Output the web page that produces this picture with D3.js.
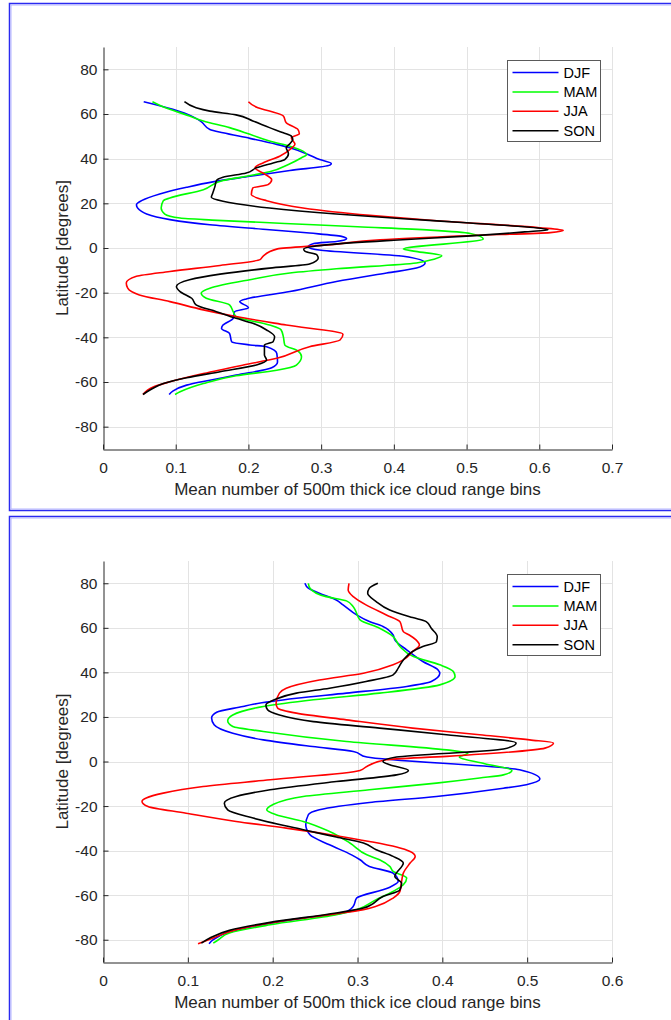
<!DOCTYPE html>
<html>
<head>
<meta charset="utf-8">
<script src="https://d3js.org/d3.v7.min.js"></script>
<style>
  body { margin: 0; background: #fff; }
  svg text { font-family: "Liberation Sans", Arial, sans-serif; fill: #262626; }
  .axis path, .axis line { stroke: #262626; }
  .grid line { stroke: #e3e3e3; }
</style>
</head>
<body>
<svg id="chart" width="671" height="1020"></svg>
<script>
// season names and colours
var seasons = ["DJF", "MAM", "JJA", "SON"];
var seasonColors = ["#0000ff", "#00ff00", "#ff0000", "#000000"];

// tick labels
var latTicks = [-80, -60, -40, -20, 0, 20, 40, 60, 80];
var topXTicks = [0, 0.1, 0.2, 0.3, 0.4, 0.5, 0.6, 0.7];
var bottomXTicks = [0, 0.1, 0.2, 0.3, 0.4, 0.5, 0.6];

// top panel: [latitude, mean bins]
var topDJF = [[65.5,0.056],[62.1,0.096],[58.7,0.124],[56.6,0.135],[53.1,0.147],[51.6,0.165],[49.1,0.202],[46.4,0.239],[44.9,0.257],[41.9,0.282],[39.6,0.298],[37.8,0.314],[37.1,0.312],[34.7,0.257],[32.1,0.202],[29.6,0.151],[27.2,0.115],[24.2,0.078],[21.2,0.053],[19.4,0.046],[16.4,0.053],[15.2,0.060],[12.7,0.092],[10.4,0.147],[8.2,0.229],[6.7,0.284],[5.2,0.328],[4.1,0.335],[2.9,0.321],[2.0,0.29],[0.5,0.282],[-1,0.30],[-3.7,0.413],[-6.7,0.443],[-9.0,0.431],[-11.2,0.39],[-15.0,0.321],[-19.5,0.257],[-22.8,0.197],[-24.0,0.188],[-26.7,0.2],[-28.5,0.181],[-31.5,0.179],[-34.5,0.165],[-36,0.163],[-38.2,0.174],[-42,0.177],[-43.4,0.202],[-44.2,0.225],[-47.2,0.239],[-51,0.24],[-53.6,0.232],[-56.9,0.183],[-59.2,0.147],[-61.4,0.115],[-64.1,0.096],[-65.6,0.091]];
var topMAM = [[65.5,0.068],[63.6,0.080],[59.1,0.119],[56.9,0.138],[53.9,0.174],[50.9,0.202],[47.9,0.229],[45.6,0.257],[43.4,0.275],[41.9,0.280],[40.4,0.273],[37.4,0.255],[34.1,0.229],[32.1,0.197],[30.2,0.165],[26.1,0.138],[22.4,0.092],[21.2,0.083],[17.9,0.080],[15.2,0.085],[13.4,0.106],[12.5,0.15],[11,0.25],[9.5,0.35],[8,0.45],[6.5,0.505],[4.0,0.523],[-0.5,0.413],[-1.5,0.43],[-3.5,0.466],[-5,0.455],[-6.7,0.431],[-9.3,0.321],[-11.2,0.257],[-14.2,0.202],[-18,0.147],[-20.2,0.135],[-22.5,0.142],[-25.5,0.174],[-28.5,0.179],[-30.7,0.183],[-34.5,0.229],[-36.7,0.245],[-39.7,0.248],[-43.4,0.25],[-46.1,0.268],[-48.7,0.273],[-52.4,0.266],[-54.7,0.239],[-57.2,0.183],[-60.7,0.138],[-64.4,0.106],[-65.6,0.099]];
var topJJA = [[65.5,0.2],[62.8,0.213],[61.3,0.229],[59.1,0.248],[56.1,0.252],[53.1,0.268],[51.2,0.270],[49.4,0.259],[46.4,0.264],[44.6,0.259],[41.1,0.243],[38.1,0.220],[35.9,0.209],[33.2,0.222],[30.6,0.232],[28.4,0.227],[26.9,0.206],[23.9,0.204],[21.2,0.225],[17.9,0.275],[14.6,0.367],[12.2,0.459],[9.1,0.6],[7.9,0.633],[6.9,0.615],[5.5,0.5],[3.7,0.381],[1.4,0.31],[-0.4,0.24],[-3.7,0.22],[-5.2,0.216],[-7.8,0.161],[-10.5,0.092],[-12.7,0.046],[-15.7,0.032],[-18,0.034],[-21,0.050],[-24,0.092],[-27.7,0.138],[-30.7,0.183],[-34.5,0.252],[-38.6,0.33],[-41.2,0.326],[-44.2,0.284],[-49.4,0.239],[-52.4,0.193],[-56.2,0.138],[-59.9,0.092],[-62.2,0.069],[-65.6,0.055]];
var topSON = [[65.5,0.112],[62.8,0.128],[61.3,0.147],[59.6,0.183],[56.9,0.206],[53.9,0.229],[51.6,0.248],[50.1,0.259],[48.6,0.261],[46.7,0.257],[44.9,0.252],[42.2,0.255],[39.6,0.25],[38.1,0.234],[35.9,0.211],[33.6,0.197],[31.7,0.165],[30.2,0.156],[27.6,0.154],[24.6,0.151],[22.7,0.149],[20.9,0.165],[17.9,0.229],[15.2,0.321],[13.1,0.413],[11.2,0.505],[9.5,0.58],[8.2,0.612],[7.2,0.58],[5.3,0.5],[3.5,0.40],[1.5,0.31],[0.7,0.289],[-0.4,0.276],[-1.5,0.278],[-3,0.294],[-4.5,0.296],[-7.2,0.284],[-9,0.229],[-11.7,0.161],[-14.2,0.119],[-17.2,0.101],[-19.5,0.106],[-22.5,0.122],[-25.5,0.128],[-28.5,0.156],[-31.5,0.183],[-33.7,0.206],[-36.7,0.225],[-39.7,0.236],[-41.9,0.234],[-43.4,0.222],[-47.9,0.222],[-50.2,0.225],[-52.4,0.211],[-55.4,0.161],[-58.1,0.115],[-60.7,0.083],[-63.7,0.064],[-65.6,0.055]];

// bottom panel: [latitude, mean bins]
var botDJF = [[80,0.238],[77.8,0.242],[75.5,0.255],[72.5,0.275],[70.3,0.283],[65.8,0.299],[62.8,0.314],[60.6,0.330],[56.8,0.342],[54.6,0.344],[50.1,0.358],[44.9,0.377],[41.1,0.395],[39.6,0.397],[35.9,0.387],[33.7,0.358],[30.7,0.287],[28.4,0.228],[25.7,0.177],[24.7,0.165],[22.1,0.134],[19.5,0.128],[16.5,0.131],[12.7,0.153],[9.7,0.189],[6.7,0.247],[4.5,0.295],[2.0,0.311],[-3.7,0.491],[-7.9,0.515],[-10.4,0.499],[-12,0.472],[-15.7,0.393],[-18.4,0.314],[-21.7,0.255],[-23.9,0.242],[-28.4,0.239],[-32.9,0.244],[-37.4,0.267],[-41.9,0.293],[-44.1,0.303],[-47.1,0.314],[-50.1,0.342],[-53.8,0.348],[-56.8,0.336],[-61.3,0.299],[-65,0.295],[-68,0.283],[-70.3,0.236],[-74,0.177],[-77,0.145],[-80,0.130],[-81.8,0.125]];
var botMAM = [[80,0.242],[77.8,0.244],[74,0.263],[72.1,0.287],[69.5,0.295],[66.5,0.299],[63.6,0.303],[59.8,0.326],[56.1,0.342],[51.6,0.350],[47.1,0.366],[43.4,0.397],[40.4,0.413],[38.1,0.415],[34.4,0.397],[30.7,0.326],[27.7,0.248],[24.7,0.189],[20.9,0.153],[18.3,0.147],[15.7,0.153],[13.5,0.189],[9,0.287],[5.2,0.405],[3.7,0.43],[2,0.42],[-1,0.45],[-4,0.482],[-6,0.472],[-7.4,0.444],[-9.7,0.393],[-12.7,0.314],[-15.7,0.236],[-19.4,0.2],[-21.7,0.193],[-23.9,0.204],[-26.9,0.236],[-31.4,0.267],[-36.6,0.291],[-41.9,0.311],[-44.1,0.326],[-47.1,0.338],[-49.3,0.342],[-52.3,0.358],[-55.3,0.354],[-59.1,0.338],[-62,0.322],[-66.5,0.299],[-68.8,0.275],[-73.3,0.197],[-77,0.149],[-80,0.136],[-81.5,0.130]];
var botJJA = [[80,0.290],[77,0.289],[74,0.295],[70.3,0.31],[65.8,0.334],[62.8,0.350],[58.3,0.354],[56.8,0.361],[54.6,0.369],[52.3,0.373],[49.4,0.365],[45.6,0.354],[43.4,0.342],[39.6,0.307],[36.6,0.255],[32.9,0.216],[30.7,0.208],[26.2,0.204],[23.9,0.206],[21.7,0.228],[18.7,0.287],[15,0.365],[12,0.444],[9.7,0.503],[8.3,0.531],[6,0.521],[2.3,0.405],[0.8,0.334],[-2.2,0.311],[-4,0.303],[-8.2,0.197],[-11.2,0.118],[-14.2,0.071],[-16.4,0.051],[-17.9,0.046],[-20.2,0.053],[-23.2,0.098],[-26.9,0.157],[-29.9,0.216],[-33.3,0.275],[-35.9,0.314],[-38.4,0.346],[-40.4,0.362],[-42.6,0.368],[-45.6,0.362],[-50.1,0.354],[-53.8,0.352],[-58.3,0.350],[-61.3,0.342],[-65,0.322],[-66.5,0.307],[-68.3,0.275],[-72.5,0.197],[-75.5,0.157],[-79.2,0.130],[-81.8,0.112]];
var botSON = [[80,0.324],[77.8,0.314],[75.5,0.312],[71.8,0.322],[68,0.338],[64.6,0.365],[62.8,0.381],[59.8,0.387],[56.1,0.394],[53.8,0.393],[51.6,0.377],[49.4,0.365],[45.6,0.354],[41.9,0.348],[38.9,0.342],[35.9,0.31],[32.9,0.267],[30.7,0.228],[28.1,0.204],[25.4,0.192],[23.2,0.194],[20.9,0.208],[17.9,0.248],[15,0.326],[12,0.405],[8.3,0.487],[5.6,0.472],[2,0.346],[0,0.33],[-1.5,0.338],[-4,0.36],[-6,0.346],[-9,0.275],[-12.7,0.197],[-15.7,0.157],[-18.7,0.143],[-21.7,0.147],[-25.4,0.177],[-30.6,0.236],[-33.9,0.275],[-36.6,0.307],[-39.6,0.322],[-42.6,0.342],[-45.6,0.354],[-51.6,0.344],[-54.6,0.352],[-57.6,0.350],[-60.6,0.330],[-65.8,0.307],[-68,0.275],[-72.2,0.197],[-75.8,0.149],[-79.2,0.126],[-81.5,0.116]];

var xTitle = "Mean number of 500m thick ice cloud range bins";
var yTitle = "Latitude [degrees]";

var svg = d3.select("#chart");

// blue figure frames
function frame(y, h) {
  svg.append("rect").attr("x", 9.5).attr("y", y).attr("width", 700).attr("height", h)
    .attr("fill", "none").attr("stroke", "#2a2af0").attr("stroke-width", 1.5);
  svg.append("rect").attr("x", 11).attr("y", y + 1.5).attr("width", 700).attr("height", h - 3)
    .attr("fill", "none").attr("stroke", "#b4b4ff").attr("stroke-width", 1);
}
frame(3.5, 507);
frame(516.5, 520);

function panel(top, bottom, xMax, xTicks, series) {
  var left = 103, right = 612;
  var x = d3.scaleLinear().domain([0, xMax]).range([left, right]);
  var y = d3.scaleLinear().domain([-90, 90]).range([bottom, top]);
  var g = svg.append("g");

  // grid
  var grid = g.append("g").attr("class", "grid");
  grid.selectAll(".gx").data(xTicks.slice(1)).enter().append("line")
    .attr("x1", function(d) { return Math.round(x(d)) + 0.5; })
    .attr("x2", function(d) { return Math.round(x(d)) + 0.5; })
    .attr("y1", top).attr("y2", bottom);
  grid.selectAll(".gy").data(latTicks).enter().append("line")
    .attr("y1", function(d) { return Math.round(y(d)) + 0.5; })
    .attr("y2", function(d) { return Math.round(y(d)) + 0.5; })
    .attr("x1", left).attr("x2", right);

  var fmt = function(d) { return String(d); };

  g.append("g").attr("class", "axis")
    .attr("transform", "translate(0," + (bottom + 0.5) + ")")
    .call(d3.axisBottom(x).tickValues(xTicks).tickFormat(fmt)
      .tickSizeInner(-5).tickSizeOuter(0).tickPadding(12))
    .call(function(a) { a.selectAll("text").style("font-size", "15.5px"); });

  g.append("g").attr("class", "axis")
    .attr("transform", "translate(" + (left + 0.5) + ",0)")
    .call(d3.axisLeft(y).tickValues(latTicks).tickFormat(fmt)
      .tickSizeInner(-5).tickSizeOuter(0).tickPadding(6))
    .call(function(a) { a.selectAll("text").style("font-size", "15.5px"); });

  // latitudes are strictly decreasing, so a monotone-in-y curve smooths the profiles
  var line = d3.line()
    .curve(d3.curveMonotoneY)
    .x(function(d) { return x(d[1]); })
    .y(function(d) { return y(d[0]); });

  g.selectAll(".series").data(series).enter().append("path")
    .attr("d", function(d) { return line(d); })
    .attr("fill", "none")
    .attr("stroke", function(d, i) { return seasonColors[i]; })
    .attr("stroke-width", 1.6)
    .attr("stroke-linejoin", "round");

  // titles
  g.append("text")
    .attr("x", (left + right) / 2).attr("y", bottom + 46)
    .attr("text-anchor", "middle").style("font-size", "17px")
    .text(xTitle);
  g.append("text")
    .attr("transform", "translate(68," + ((top + bottom) / 2) + ") rotate(-90)")
    .attr("text-anchor", "middle").style("font-size", "17px")
    .text(yTitle);

  // legend
  var lg = g.append("g").attr("transform", "translate(507.5," + (top + 13.5) + ")");
  lg.append("rect").attr("width", 93).attr("height", 81)
    .attr("fill", "#fff").attr("stroke", "#5a5a5a").attr("stroke-width", 1);
  seasons.forEach(function(s, i) {
    var yy = 12 + i * 19.4;
    lg.append("line").attr("x1", 5).attr("x2", 51).attr("y1", yy).attr("y2", yy)
      .attr("stroke", seasonColors[i]).attr("stroke-width", 1.5);
    lg.append("text").attr("x", 56).attr("y", yy + 5)
      .style("font-size", "14.5px").style("fill", "#000").text(s);
  });
}

panel(47, 449, 0.7, topXTicks, [topDJF, topMAM, topJJA, topSON]);
panel(561, 962, 0.6, bottomXTicks, [botDJF, botMAM, botJJA, botSON]);
</script>
</body>
</html>
